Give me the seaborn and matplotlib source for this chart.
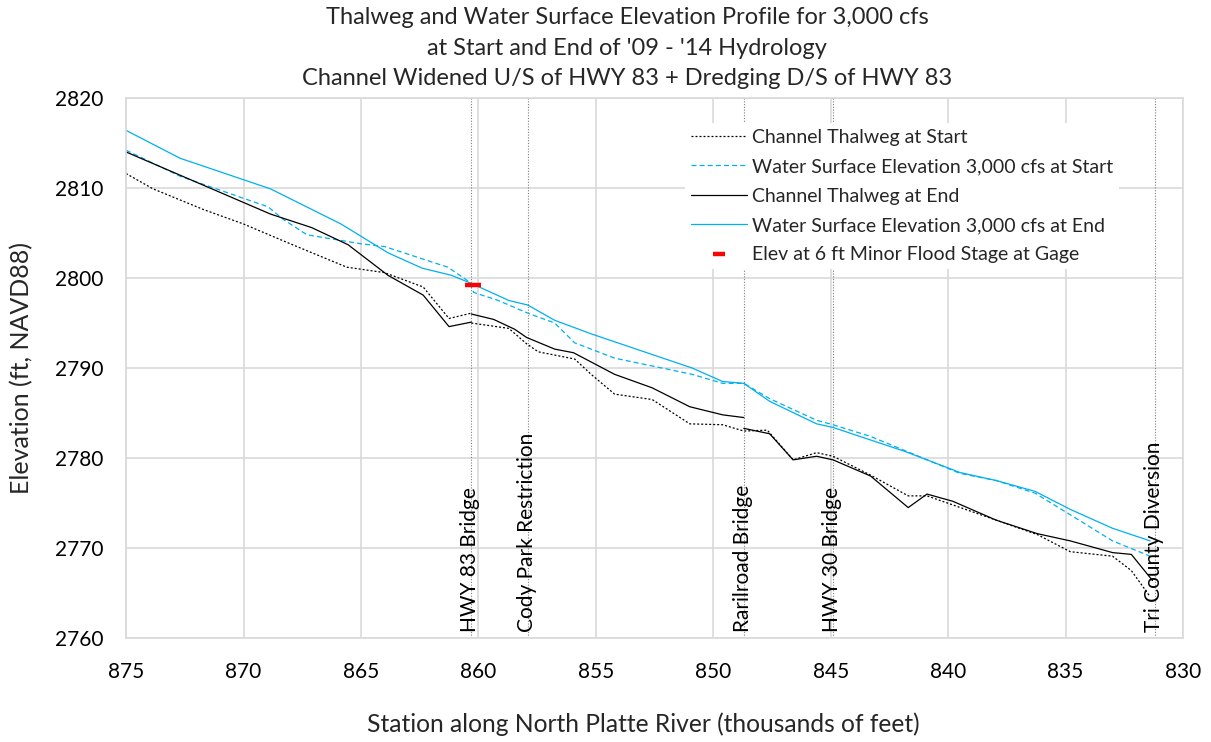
import numpy as np
import pandas as pd
import seaborn as sns
import matplotlib.pyplot as plt
from matplotlib.lines import Line2D

# ----------- Data (station in thousands of feet, elevation in ft NAVD88) -----------

thalweg_start_x = [875, 873.85, 871.7, 870, 868.1, 865.6, 864.0, 862.35, 861.25, 860.3,
                   860.3, 858.7, 857.95, 857.45, 855.9, 855.2, 854.2, 852.6, 851.0, 849.6,
                   848.7, 847.7, 846.6, 845.6, 844.9, 843.3, 841.7, 840.9, 837.95, 836.2,
                   834.8, 833.0, 832.2, 831.4]
thalweg_start_y = [2811.6, 2809.9, 2807.6, 2806.0, 2803.9, 2801.2, 2800.6, 2799.0, 2795.5, 2796.1,
                   2795.0, 2794.4, 2792.7, 2791.8, 2791.0, 2789.3, 2787.1, 2786.5, 2783.8, 2783.7,
                   2783.0, 2783.1, 2779.8, 2780.6, 2780.2, 2778.1, 2775.8, 2775.8, 2773.1, 2771.5,
                   2769.6, 2769.1, 2767.5, 2764.6]
thalweg_start_seg = [0] * 10 + [1] * 24

wse_start_x = [875, 872.7, 868.95, 868.3, 867.3, 865.0, 864.0, 861.3, 860.4, 860.2,
               859.15, 857.9, 856.75, 855.9, 854.2, 850.9, 849.6, 848.7, 847.6, 845.6,
               844.9, 843.3, 839.5, 837.95, 836.3, 834.8, 833.0, 831.4]
wse_start_y = [2814.2, 2811.3, 2807.9, 2806.5, 2804.8, 2803.8, 2803.5, 2801.2, 2799.6, 2798.4,
               2797.5, 2796.1, 2795.0, 2792.8, 2791.1, 2789.3, 2788.3, 2788.3, 2786.6, 2784.2,
               2783.7, 2782.4, 2778.3, 2777.5, 2776.1, 2773.7, 2770.8, 2769.1]

thalweg_end_x = [875, 868.85, 867.1, 865.55, 863.85, 862.35, 861.25, 860.3,
                 860.3, 859.35, 858.45, 857.95, 856.75, 855.95, 854.2, 852.6, 851.0, 849.6, 848.7,
                 848.7, 847.6, 846.6, 845.6, 844.9, 843.3, 841.7, 840.9, 839.8, 837.95, 836.2,
                 834.8, 833.0, 832.2, 831.3]
thalweg_end_y = [2814.0, 2807.1, 2805.6, 2803.7, 2800.3, 2798.1, 2794.6, 2795.1,
                 2796.0, 2795.4, 2794.3, 2793.4, 2792.1, 2791.7, 2789.3, 2787.8, 2785.7, 2784.8, 2784.5,
                 2783.3, 2782.7, 2779.8, 2780.2, 2779.8, 2778.0, 2774.5, 2776.0, 2775.2, 2773.1, 2771.6,
                 2770.8, 2769.5, 2769.3, 2766.4]
thalweg_end_seg = [0] * 8 + [1] * 11 + [2] * 15

wse_end_x = [875, 872.7, 868.85, 865.85, 863.85, 862.4, 861.15, 860.3, 858.7, 857.9,
             856.75, 855.2, 850.9, 849.6, 848.7, 847.6, 845.6, 844.9, 841.8, 839.5,
             837.95, 836.3, 834.8, 833.0, 831.4]
wse_end_y = [2816.4, 2813.3, 2809.9, 2806.0, 2802.8, 2801.1, 2800.3, 2799.4, 2797.5, 2797.0,
             2795.3, 2793.8, 2790.0, 2788.5, 2788.3, 2786.3, 2783.8, 2783.4, 2780.7, 2778.4,
             2777.5, 2776.3, 2774.3, 2772.2, 2770.8]

gage_x = [860.25]
gage_y = [2799.2]

landmark_x = [860.3, 857.9, 848.7, 844.9, 831.2]
landmark_names = ["HWY 83 Bridge", "Cody Park Restriction", "Rarilroad Bridge",
                  "HWY 30 Bridge", "Tri County Diversion"]

x_ticks = [875, 870, 865, 860, 855, 850, 845, 840, 835, 830]
y_ticks = [2760, 2770, 2780, 2790, 2800, 2810, 2820]

# ----------- Style -----------

sns.set_theme(style="whitegrid")
plt.rcParams['font.family'] = ['Lato', 'DejaVu Sans']
BLUE = "#00B0F0"
GRID = "#d9d9d9"

fig = plt.figure(figsize=(12.11, 7.42), dpi=100)
ax = fig.add_axes([0.1041, 0.140, 0.8728, 0.728])

df_ts = pd.DataFrame({"x": thalweg_start_x, "y": thalweg_start_y, "seg": thalweg_start_seg})
df_ws = pd.DataFrame({"x": wse_start_x, "y": wse_start_y})
df_te = pd.DataFrame({"x": thalweg_end_x, "y": thalweg_end_y, "seg": thalweg_end_seg})
df_we = pd.DataFrame({"x": wse_end_x, "y": wse_end_y})

sns.lineplot(data=df_ts, x="x", y="y", units="seg", estimator=None, sort=False, ax=ax,
             color="black", lw=0.9, linestyle=(0, (1.6, 1.6)))
sns.lineplot(data=df_ws, x="x", y="y", estimator=None, sort=False, ax=ax,
             color=BLUE, lw=0.9, linestyle=(0, (4, 2.5)))
sns.lineplot(data=df_te, x="x", y="y", units="seg", estimator=None, sort=False, ax=ax,
             color="black", lw=0.9)
sns.lineplot(data=df_we, x="x", y="y", estimator=None, sort=False, ax=ax,
             color=BLUE, lw=0.9)
sns.scatterplot(x=gage_x, y=gage_y, ax=ax, color="red", marker="_", s=125,
                linewidth=3.2, zorder=4)

# landmark lines and labels
for lx, name in zip(landmark_x, landmark_names):
    ax.axvline(lx, color="#7f7f7f", lw=0.8, linestyle=(0, (1, 1.5)), zorder=1)
    ax.text(lx + 0.05, 2760.7, name, rotation=90, ha="center", va="bottom",
            fontsize=15, color="black")

# legend built from proxy handles
handles = [
    Line2D([], [], color="black", lw=0.9, linestyle=(0, (1.6, 1.6))),
    Line2D([], [], color=BLUE, lw=0.9, linestyle=(0, (4, 2.5))),
    Line2D([], [], color="black", lw=0.9),
    Line2D([], [], color=BLUE, lw=0.9),
    Line2D([], [], color="red", marker="_", markersize=9, mew=3.2, linestyle=""),
]
labels = ["Channel Thalweg at Start", "Water Surface Elevation 3,000 cfs at Start",
          "Channel Thalweg at End", "Water Surface Elevation 3,000 cfs at End",
          "Elev at 6 ft Minor Flood Stage at Gage"]
leg = ax.legend(handles, labels, loc="upper left", bbox_to_anchor=(0.52, 0.972),
                fontsize=14, frameon=True, facecolor="white", edgecolor="none",
                framealpha=1, handlelength=2.85, handletextpad=0.3, labelspacing=0.64,
                borderpad=0.3)
leg.set_zorder(5)

ax.set_xlim(875, 830)
ax.set_ylim(2760, 2820)
ax.set_xticks(x_ticks)
ax.set_yticks(y_ticks)
ax.tick_params(axis="both", labelsize=15, length=0, colors="black")
ax.tick_params(axis="y", pad=16)
ax.tick_params(axis="x", pad=17.5)
ax.grid(True, color=GRID, lw=1.2)
for sp in ax.spines.values():
    sp.set_color(GRID)
    sp.set_linewidth(1.2)

ax.set_xlabel("Station along North Platte River (thousands of feet)", fontsize=17.7,
              va="baseline")
ax.xaxis.set_label_coords(0.489, -0.174)
ax.set_ylabel("Elevation (ft, NAVD88)", fontsize=18, labelpad=16)

fig.text(0.518, 0.99,
         "Thalweg and Water Surface Elevation Profile for 3,000 cfs\n"
         "at Start and End of '09 - '14 Hydrology\n"
         "Channel Widened U/S of HWY 83 + Dredging D/S of HWY 83",
         ha="center", va="top", fontsize=17, linespacing=1.56)

fig.savefig("out.png", dpi=100)
plt.close(fig)
